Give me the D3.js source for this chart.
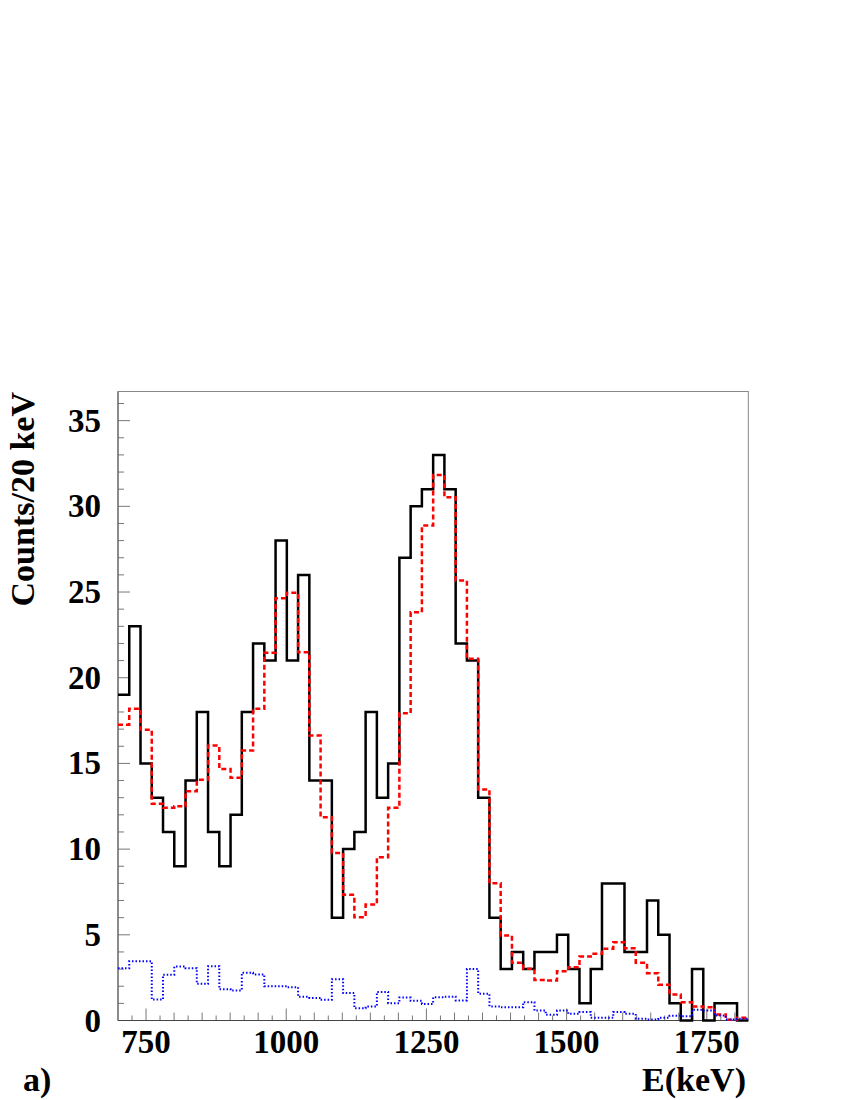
<!DOCTYPE html>
<html>
<head>
<meta charset="utf-8">
<script src="https://cdn.jsdelivr.net/npm/d3@7"></script>
<style>
  body { margin: 0; background: #fff; }
  text { font-family: "Liberation Serif", "DejaVu Serif", serif; font-weight: bold; }
</style>
</head>
<body>
<svg id="vis-svg" width="850" height="1100"></svg>
<script>

// Data: 56 bins starting at 700 keV
var xMin = 700;
var xMax = 1824;

var dataCounts = [19, 23, 15, 13, 11, 9, 14, 18, 11, 9,
                  12, 18, 22, 21, 28, 21, 26, 14, 14, 6,
                  10, 11, 18, 13, 15, 27, 30, 31, 33, 31,
                  22, 21, 13, 6, 3, 4, 3, 4, 4, 5,
                  3, 1, 3, 8, 8, 4, 4, 7, 5, 1,
                  0, 3, 0, 1, 1, 0];

var fitTotal = [17.25, 18.19, 16.96, 12.64, 12.41, 12.5, 13.38, 14.04, 16.04, 14.68,
                14.16, 15.75, 18.19, 21.45, 24.63, 24.96, 21.48, 16.63, 11.86, 9.78,
                7.33, 6.03, 6.77, 9.53, 12.41, 17.93, 23.82, 28.88, 31.83, 30.53,
                25.67, 21.1, 13.48, 8.01, 4.96, 3.37, 3.02, 2.37, 2.33, 2.88,
                3.11, 3.73, 3.89, 4.18, 4.57, 4.22, 3.37, 2.76, 2.08, 1.52,
                1.07, 0.82, 0.77, 0.35, 0.05, 0.16];

var background = [3.05, 3.46, 3.46, 1.22, 2.67, 3.15, 3.05, 2.14, 3.17, 1.83,
                  1.75, 2.78, 2.68, 2.0, 2.0, 1.94, 1.38, 1.32, 1.21, 2.41,
                  1.6, 0.72, 0.82, 1.67, 1.01, 1.34, 1.15, 0.97, 1.36, 1.39,
                  1.17, 3.0, 1.56, 0.82, 0.77, 0.77, 1.07, 0.58, 0.33, 0.58,
                  0.39, 0.49, 0.16, 0.16, 0.49, 0.39, 0.1, 0.06, 0.16, 0.27,
                  0.25, 0.62, 0.58, 0.29, 0.06, 0.1];

var xTickLabels = [750, 1000, 1250, 1500, 1750];
var yTickLabels = [0, 5, 10, 15, 20, 25, 30, 35];
var yMax = 36.7;

var svg = d3.select('#vis-svg');

// Frame bounds
var frameLeft = 118, frameRight = 748.3, frameTop = 391.5, frameBottom = 1020.5;

var x = d3.scaleLinear().domain([xMin, xMax]).range([frameLeft, frameRight]);
var y = d3.scaleLinear().domain([0, yMax]).range([frameBottom, frameTop]);

var binWidth = (xMax - xMin) / dataCounts.length;

// Step path for a histogram
function stepPath(values) {
  var pts = [];
  values.forEach(function(v, i) {
    pts.push([x(xMin + i * binWidth), y(v)]);
    pts.push([x(xMin + (i + 1) * binWidth), y(v)]);
  });
  return d3.line()(pts);
}

// Frame (top and right)
svg.append('rect')
  .attr('x', frameLeft).attr('y', frameTop)
  .attr('width', frameRight - frameLeft).attr('height', frameBottom - frameTop)
  .attr('fill', 'none').attr('stroke', '#888').attr('stroke-width', 1);

// X Axis with minor ticks every 25 keV
var xg = svg.append('g').attr('class', 'x axis');
d3.range(725, xMax, 25).forEach(function(t) {
  var len = (t % 250 === 0) ? 12 : (t % 50 === 0 ? 8 : 5);
  xg.append('line')
    .attr('x1', x(t)).attr('x2', x(t))
    .attr('y1', frameBottom).attr('y2', frameBottom - len)
    .attr('stroke', '#777').attr('stroke-width', 1);
});
xg.selectAll('text.xl')
  .data(xTickLabels)
  .enter().append('text')
  .attr('class', 'xl')
  .attr('x', function(d) { return x(d); })
  .attr('y', 1053)
  .attr('text-anchor', 'middle')
  .style('font-size', '33px')
  .text(function(d) { return d; });
xg.append('line')
  .attr('x1', frameLeft).attr('x2', frameRight)
  .attr('y1', frameBottom).attr('y2', frameBottom)
  .attr('stroke', '#444').attr('stroke-width', 1.2);

// Y Axis with minor ticks every 1 count
var yg = svg.append('g').attr('class', 'y axis');
d3.range(1, 37, 1).forEach(function(t) {
  var len = (t % 5 === 0) ? 12 : 6;
  yg.append('line')
    .attr('x1', frameLeft).attr('x2', frameLeft + len)
    .attr('y1', y(t)).attr('y2', y(t))
    .attr('stroke', '#777').attr('stroke-width', 1);
});
yg.selectAll('text.yl')
  .data(yTickLabels)
  .enter().append('text')
  .attr('class', 'yl')
  .attr('x', 101)
  .attr('y', function(d) { return y(d) + 11; })
  .attr('text-anchor', 'end')
  .style('font-size', '33px')
  .text(function(d) { return d; });
yg.append('line')
  .attr('x1', frameLeft).attr('x2', frameLeft)
  .attr('y1', frameTop).attr('y2', frameBottom)
  .attr('stroke', '#666').attr('stroke-width', 1.2);

// Axis titles
svg.append('text')
  .attr('x', 746).attr('y', 1091)
  .attr('text-anchor', 'end')
  .style('font-size', '34px')
  .text('E(keV)');

svg.append('text')
  .attr('transform', 'translate(34,392) rotate(-90)')
  .attr('text-anchor', 'end')
  .style('font-size', '34px')
  .text('Counts/20 keV');

svg.append('text')
  .attr('x', 23).attr('y', 1091)
  .style('font-size', '34px')
  .text('a)');

// Histograms
svg.append('path')
  .attr('d', stepPath(dataCounts))
  .attr('fill', 'none').attr('stroke', '#000').attr('stroke-width', 2.5);

svg.append('path')
  .attr('d', stepPath(fitTotal))
  .attr('fill', 'none').attr('stroke', '#ff0000').attr('stroke-width', 2.5)
  .attr('stroke-dasharray', '5,3');

svg.append('path')
  .attr('d', stepPath(background))
  .attr('fill', 'none').attr('stroke', '#0000ff').attr('stroke-width', 2)
  .attr('stroke-dasharray', '1.5,2');

</script>
</body>
</html>
